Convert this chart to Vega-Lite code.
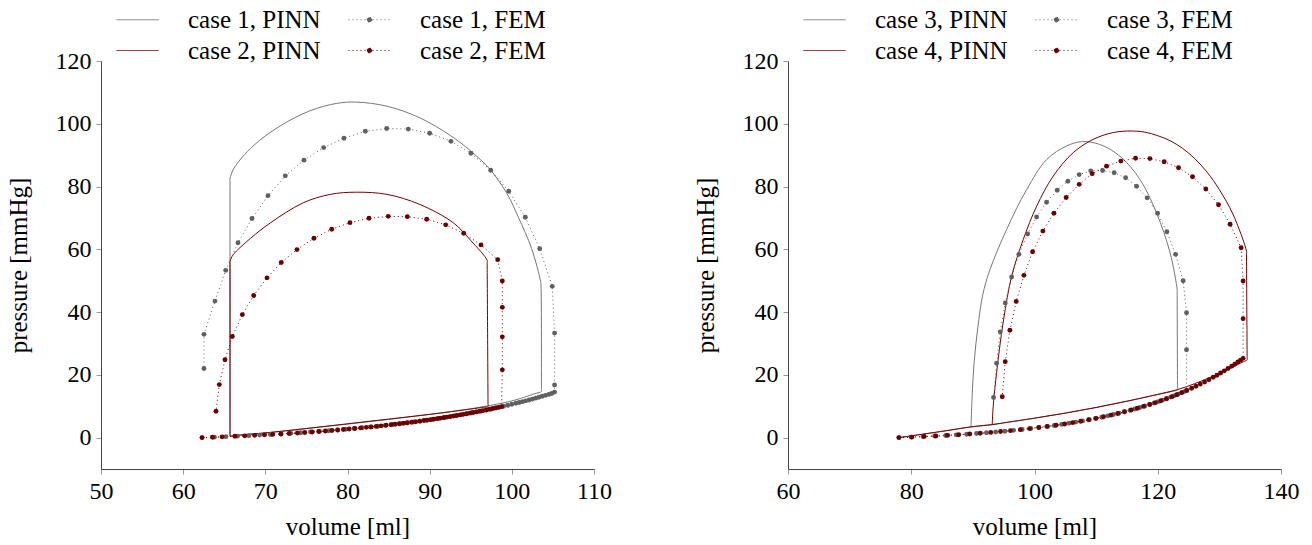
{
"$schema": "https://vega.github.io/schema/vega-lite/v6.json",
"background": "white",
"padding": {"left": 6, "top": 7, "right": 5, "bottom": 5},
"config": {
 "view": {"stroke": null},
 "axis": {"labelFont": "Liberation Serif", "labelFontSize": 24, "titleFont": "Liberation Serif", "titleFontSize": 25, "titleFontWeight": "normal", "labelColor": "black", "titleColor": "black", "domainColor": "#444444", "domainWidth": 1, "tickColor": "#999999", "tickSize": 5, "grid": false, "labelPadding": 5, "labelFlush": false, "labelOverlap": false},
 "legend": {"orient": "none", "legendX": 4, "legendY": -54, "columns": 2, "columnPadding": 16, "rowPadding": 5, "symbolSize": 441, "symbolStrokeWidth": 1, "symbolOffset": 20, "labelOffset": 38, "labelFont": "Liberation Serif", "labelFontSize": 25, "labelColor": "black", "padding": 0, "labelLimit": 300}
},
"spacing": 194,
"bounds": "flush",
"resolve": {"scale": {"color": "independent"}, "legend": {"color": "independent"}},
"hconcat": [
 {
  "width": 493, "height": 408,
  "data": {"values": [
{"s":"case 1, PINN","v":65.7,"p":0.5},{"s":"case 1, PINN","v":67,"p":0.9},{"s":"case 1, PINN","v":70,"p":1.5},{"s":"case 1, PINN","v":75,"p":2.9},{"s":"case 1, PINN","v":80,"p":4.3},{"s":"case 1, PINN","v":85,"p":5.8},{"s":"case 1, PINN","v":90,"p":7.4},{"s":"case 1, PINN","v":95,"p":9.2},{"s":"case 1, PINN","v":100,"p":11.7},{"s":"case 1, PINN","v":102.8,"p":14.0},{"s":"case 1, PINN","v":103.6,"p":14.7},{"s":"case 1, PINN","v":103.6,"p":15.7},{"s":"case 1, PINN","v":103.55,"p":48.5},{"s":"case 1, PINN","v":103.5,"p":49.8},{"s":"case 1, PINN","v":102.4,"p":60.3},{"s":"case 1, PINN","v":100.8,"p":70.2},{"s":"case 1, PINN","v":99.4,"p":77.8},{"s":"case 1, PINN","v":97.3,"p":85.6},{"s":"case 1, PINN","v":95.0,"p":91.3},{"s":"case 1, PINN","v":92.5,"p":96.3},{"s":"case 1, PINN","v":88.8,"p":101.9},{"s":"case 1, PINN","v":84.8,"p":105.6},{"s":"case 1, PINN","v":81.1,"p":106.9},{"s":"case 1, PINN","v":78.7,"p":106.5},{"s":"case 1, PINN","v":75.4,"p":104.1},{"s":"case 1, PINN","v":71.8,"p":99.3},{"s":"case 1, PINN","v":68.5,"p":92.9},{"s":"case 1, PINN","v":66.2,"p":85.9},{"s":"case 1, PINN","v":65.7,"p":82.5},{"s":"case 1, PINN","v":65.7,"p":81.5},{"s":"case 1, PINN","v":65.7,"p":1.5},{"s":"case 1, PINN","v":65.7,"p":0.5},
{"s":"case 1, FEM","v":62.3,"p":0},{"s":"case 1, FEM","v":63.8,"p":0.15},{"s":"case 1, FEM","v":65.2,"p":0.3},{"s":"case 1, FEM","v":66.6,"p":0.46},{"s":"case 1, FEM","v":68.0,"p":0.63},{"s":"case 1, FEM","v":69.3,"p":0.8},{"s":"case 1, FEM","v":70.6,"p":0.98},{"s":"case 1, FEM","v":71.9,"p":1.17},{"s":"case 1, FEM","v":73.1,"p":1.36},{"s":"case 1, FEM","v":74.3,"p":1.56},{"s":"case 1, FEM","v":75.5,"p":1.78},{"s":"case 1, FEM","v":76.6,"p":1.98},{"s":"case 1, FEM","v":77.7,"p":2.2},{"s":"case 1, FEM","v":78.8,"p":2.44},{"s":"case 1, FEM","v":79.8,"p":2.66},{"s":"case 1, FEM","v":80.8,"p":2.89},{"s":"case 1, FEM","v":81.8,"p":3.14},{"s":"case 1, FEM","v":82.8,"p":3.4},{"s":"case 1, FEM","v":83.7,"p":3.64},{"s":"case 1, FEM","v":84.6,"p":3.89},{"s":"case 1, FEM","v":85.5,"p":4.16},{"s":"case 1, FEM","v":86.4,"p":4.44},{"s":"case 1, FEM","v":87.2,"p":4.7},{"s":"case 1, FEM","v":88.0,"p":4.97},{"s":"case 1, FEM","v":88.8,"p":5.25},{"s":"case 1, FEM","v":89.6,"p":5.54},{"s":"case 1, FEM","v":90.4,"p":5.84},{"s":"case 1, FEM","v":91.1,"p":6.12},{"s":"case 1, FEM","v":91.8,"p":6.41},{"s":"case 1, FEM","v":92.5,"p":6.7},{"s":"case 1, FEM","v":93.2,"p":7.01},{"s":"case 1, FEM","v":93.9,"p":7.33},{"s":"case 1, FEM","v":94.5,"p":7.61},{"s":"case 1, FEM","v":95.1,"p":7.9},{"s":"case 1, FEM","v":95.7,"p":8.19},{"s":"case 1, FEM","v":96.3,"p":8.5},{"s":"case 1, FEM","v":96.9,"p":8.82},{"s":"case 1, FEM","v":97.5,"p":9.14},{"s":"case 1, FEM","v":98.0,"p":9.42},{"s":"case 1, FEM","v":98.5,"p":9.71},{"s":"case 1, FEM","v":99.0,"p":10.0},{"s":"case 1, FEM","v":99.5,"p":10.31},{"s":"case 1, FEM","v":100.0,"p":10.61},{"s":"case 1, FEM","v":100.5,"p":10.93},{"s":"case 1, FEM","v":100.9,"p":11.19},{"s":"case 1, FEM","v":101.3,"p":11.46},{"s":"case 1, FEM","v":101.7,"p":11.72},{"s":"case 1, FEM","v":102.1,"p":12.0},{"s":"case 1, FEM","v":102.5,"p":12.28},{"s":"case 1, FEM","v":102.9,"p":12.57},{"s":"case 1, FEM","v":103.3,"p":12.86},{"s":"case 1, FEM","v":103.7,"p":13.16},{"s":"case 1, FEM","v":104.1,"p":13.46},{"s":"case 1, FEM","v":104.5,"p":13.77},{"s":"case 1, FEM","v":104.85,"p":14.05},{"s":"case 1, FEM","v":105.2,"p":14.5},{"s":"case 1, FEM","v":105.2,"p":16.8},{"s":"case 1, FEM","v":105.2,"p":33.3},{"s":"case 1, FEM","v":104.92,"p":48.2},{"s":"case 1, FEM","v":103.39,"p":60.2},{"s":"case 1, FEM","v":101.64,"p":70.2},{"s":"case 1, FEM","v":99.62,"p":78.5},{"s":"case 1, FEM","v":97.43,"p":85.2},{"s":"case 1, FEM","v":95.03,"p":90.6},{"s":"case 1, FEM","v":92.59,"p":94.4},{"s":"case 1, FEM","v":90.0,"p":97.0},{"s":"case 1, FEM","v":87.4,"p":98.3},{"s":"case 1, FEM","v":84.77,"p":98.5},{"s":"case 1, FEM","v":82.17,"p":97.6},{"s":"case 1, FEM","v":79.57,"p":95.4},{"s":"case 1, FEM","v":77.1,"p":92.4},{"s":"case 1, FEM","v":74.7,"p":88.4},{"s":"case 1, FEM","v":72.43,"p":83.4},{"s":"case 1, FEM","v":70.32,"p":77.1},{"s":"case 1, FEM","v":68.38,"p":69.8},{"s":"case 1, FEM","v":66.67,"p":62.1},{"s":"case 1, FEM","v":65.18,"p":53.3},{"s":"case 1, FEM","v":63.87,"p":43.5},{"s":"case 1, FEM","v":62.53,"p":32.9},{"s":"case 1, FEM","v":62.53,"p":22.0},
{"s":"case 2, PINN","v":65.7,"p":0.4},{"s":"case 2, PINN","v":67,"p":0.8},{"s":"case 2, PINN","v":70,"p":1.5},{"s":"case 2, PINN","v":75,"p":2.9},{"s":"case 2, PINN","v":80,"p":4.4},{"s":"case 2, PINN","v":85,"p":5.9},{"s":"case 2, PINN","v":90,"p":7.4},{"s":"case 2, PINN","v":95,"p":9.1},{"s":"case 2, PINN","v":96.6,"p":9.7},{"s":"case 2, PINN","v":97.1,"p":9.9},{"s":"case 2, PINN","v":97.1,"p":10.9},{"s":"case 2, PINN","v":97.0,"p":55.5},{"s":"case 2, PINN","v":97.0,"p":56.5},{"s":"case 2, PINN","v":95.0,"p":62.8},{"s":"case 2, PINN","v":92.9,"p":68.4},{"s":"case 2, PINN","v":88.8,"p":74.3},{"s":"case 2, PINN","v":84.8,"p":77.5},{"s":"case 2, PINN","v":81.1,"p":78.2},{"s":"case 2, PINN","v":77.9,"p":77.5},{"s":"case 2, PINN","v":74.6,"p":74.8},{"s":"case 2, PINN","v":70.6,"p":68.4},{"s":"case 2, PINN","v":68.2,"p":63.5},{"s":"case 2, PINN","v":66.1,"p":58.3},{"s":"case 2, PINN","v":65.7,"p":56.2},{"s":"case 2, PINN","v":65.7,"p":55.2},{"s":"case 2, PINN","v":65.7,"p":1.4},{"s":"case 2, PINN","v":65.7,"p":0.4},
{"s":"case 2, FEM","v":62.3,"p":0},{"s":"case 2, FEM","v":63.56,"p":0.12},{"s":"case 2, FEM","v":64.74,"p":0.25},{"s":"case 2, FEM","v":66.3,"p":0.42},{"s":"case 2, FEM","v":67.5,"p":0.56},{"s":"case 2, FEM","v":68.7,"p":0.72},{"s":"case 2, FEM","v":69.9,"p":0.88},{"s":"case 2, FEM","v":70.9,"p":1.02},{"s":"case 2, FEM","v":71.9,"p":1.17},{"s":"case 2, FEM","v":72.9,"p":1.33},{"s":"case 2, FEM","v":73.9,"p":1.49},{"s":"case 2, FEM","v":74.8,"p":1.65},{"s":"case 2, FEM","v":75.7,"p":1.81},{"s":"case 2, FEM","v":76.5,"p":1.97},{"s":"case 2, FEM","v":77.3,"p":2.12},{"s":"case 2, FEM","v":78.1,"p":2.29},{"s":"case 2, FEM","v":78.8,"p":2.44},{"s":"case 2, FEM","v":79.5,"p":2.59},{"s":"case 2, FEM","v":80.2,"p":2.75},{"s":"case 2, FEM","v":80.9,"p":2.92},{"s":"case 2, FEM","v":81.6,"p":3.09},{"s":"case 2, FEM","v":82.3,"p":3.27},{"s":"case 2, FEM","v":82.9,"p":3.42},{"s":"case 2, FEM","v":83.5,"p":3.58},{"s":"case 2, FEM","v":84.1,"p":3.75},{"s":"case 2, FEM","v":84.7,"p":3.92},{"s":"case 2, FEM","v":85.3,"p":4.1},{"s":"case 2, FEM","v":85.8,"p":4.25},{"s":"case 2, FEM","v":86.3,"p":4.41},{"s":"case 2, FEM","v":86.8,"p":4.57},{"s":"case 2, FEM","v":87.3,"p":4.73},{"s":"case 2, FEM","v":87.8,"p":4.9},{"s":"case 2, FEM","v":88.3,"p":5.07},{"s":"case 2, FEM","v":88.8,"p":5.25},{"s":"case 2, FEM","v":89.3,"p":5.43},{"s":"case 2, FEM","v":89.7,"p":5.58},{"s":"case 2, FEM","v":90.1,"p":5.73},{"s":"case 2, FEM","v":90.5,"p":5.88},{"s":"case 2, FEM","v":90.9,"p":6.04},{"s":"case 2, FEM","v":91.3,"p":6.2},{"s":"case 2, FEM","v":91.7,"p":6.36},{"s":"case 2, FEM","v":92.1,"p":6.53},{"s":"case 2, FEM","v":92.5,"p":6.7},{"s":"case 2, FEM","v":92.9,"p":6.88},{"s":"case 2, FEM","v":93.3,"p":7.05},{"s":"case 2, FEM","v":93.7,"p":7.23},{"s":"case 2, FEM","v":94.1,"p":7.42},{"s":"case 2, FEM","v":94.5,"p":7.61},{"s":"case 2, FEM","v":94.9,"p":7.8},{"s":"case 2, FEM","v":95.3,"p":7.99},{"s":"case 2, FEM","v":95.7,"p":8.19},{"s":"case 2, FEM","v":96.1,"p":8.4},{"s":"case 2, FEM","v":96.5,"p":8.61},{"s":"case 2, FEM","v":96.9,"p":8.82},{"s":"case 2, FEM","v":97.3,"p":9.03},{"s":"case 2, FEM","v":97.7,"p":9.26},{"s":"case 2, FEM","v":98.1,"p":9.48},{"s":"case 2, FEM","v":98.4,"p":9.65},{"s":"case 2, FEM","v":98.76,"p":9.86},{"s":"case 2, FEM","v":98.84,"p":21.6},{"s":"case 2, FEM","v":98.84,"p":32.1},{"s":"case 2, FEM","v":98.84,"p":41.5},{"s":"case 2, FEM","v":98.84,"p":49.9},{"s":"case 2, FEM","v":98.28,"p":56.7},{"s":"case 2, FEM","v":96.25,"p":61.4},{"s":"case 2, FEM","v":94.14,"p":65.1},{"s":"case 2, FEM","v":91.95,"p":67.8},{"s":"case 2, FEM","v":89.64,"p":69.6},{"s":"case 2, FEM","v":87.28,"p":70.4},{"s":"case 2, FEM","v":84.96,"p":70.5},{"s":"case 2, FEM","v":82.62,"p":69.9},{"s":"case 2, FEM","v":80.3,"p":68.5},{"s":"case 2, FEM","v":78.08,"p":66.4},{"s":"case 2, FEM","v":75.92,"p":63.5},{"s":"case 2, FEM","v":73.85,"p":59.9},{"s":"case 2, FEM","v":71.94,"p":55.8},{"s":"case 2, FEM","v":70.2,"p":50.9},{"s":"case 2, FEM","v":68.58,"p":45.3},{"s":"case 2, FEM","v":67.2,"p":39.2},{"s":"case 2, FEM","v":65.98,"p":32.2},{"s":"case 2, FEM","v":65.09,"p":24.8},{"s":"case 2, FEM","v":64.4,"p":16.9},{"s":"case 2, FEM","v":64.0,"p":8.4}
  ]},
  "encoding": {
   "x": {"field": "v", "type": "quantitative", "scale": {"domain": [50, 110], "nice": false, "zero": false}, "axis": {"values": [50,60,70,80,90,100,110], "title": "volume [ml]", "titlePadding": 11}},
   "y": {"field": "p", "type": "quantitative", "scale": {"domain": [-10, 120], "nice": false, "zero": false}, "axis": {"values": [0,20,40,60,80,100,120], "title": "pressure [mmHg]", "titlePadding": 24}}
  },
  "layer": [
   {"transform": [{"filter": "indexof(datum.s,'PINN')>=0"}], "mark": {"type": "line", "strokeWidth": 1, "interpolate": "catmull-rom"}, "encoding": {"color": {"field": "s", "type": "nominal", "scale": {"domain": ["case 1, PINN","case 2, PINN","case 1, FEM","case 2, FEM"], "range": ["#777777","#7a0000","#606060","#6b0000"]},
     "legend": {"title": null, "encoding": {"symbols": {
      "shape": {"value": {"expr": "indexof(datum.value,'FEM')>=0 ? 'M-2,0H2M0.24,0A0.24,0.24,0,1,1,-0.24,0A0.24,0.24,0,1,1,0.24,0Z' : 'M-2,0H2'"}},
      "strokeDash": {"value": {"expr": "indexof(datum.value,'FEM')>=0 ? [1,3] : [1,0]"}},
      "fill": {"value": {"expr": "indexof(datum.value,'case 1')>=0 ? '#606060' : '#6b0000'"}},
      "fillOpacity": {"value": 1},
      "stroke": {"value": {"expr": "indexof(datum.value,'case 1')>=0 ? '#8a8a8a' : '#7a0000'"}},
      "strokeWidth": {"value": 1},
      "opacity": {"value": 1}}}}}, "order": {"value": null}}},
   {"transform": [{"filter": "indexof(datum.s,'FEM')>=0"}], "mark": {"type": "line", "strokeWidth": 1, "strokeDash": [1,3]}, "encoding": {"color": {"field": "s", "type": "nominal"}, "order": {"value": null}}},
   {"transform": [{"filter": "indexof(datum.s,'FEM')>=0"}], "mark": {"type": "point", "filled": true, "size": 24, "opacity": 1}, "encoding": {"color": {"field": "s", "type": "nominal"}}},
   {"data": {"values": [{}]}, "mark": {"type": "point", "shape": "M0,0L-2,-0.8L-1.4,0L-2,0.8Z", "filled": true, "color": "#111111", "opacity": 1, "size": 36}, "encoding": {"x": {"datum": 110, "type": "quantitative"}, "y": {"datum": -10, "type": "quantitative"}}},
   {"data": {"values": [{}]}, "mark": {"type": "point", "shape": "M0,0L-2,-0.8L-1.4,0L-2,0.8Z", "filled": true, "color": "#111111", "opacity": 1, "size": 36, "angle": 270}, "encoding": {"x": {"datum": 50, "type": "quantitative"}, "y": {"datum": 120, "type": "quantitative"}}}
  ]
 },
 {
  "width": 493, "height": 408,
  "data": {"values": [
{"s":"case 3, PINN","v":78,"p":0},{"s":"case 3, PINN","v":85,"p":2.0},{"s":"case 3, PINN","v":89.7,"p":3.4},{"s":"case 3, PINN","v":95,"p":4.7},{"s":"case 3, PINN","v":100,"p":6.2},{"s":"case 3, PINN","v":105,"p":7.8},{"s":"case 3, PINN","v":110,"p":9.6},{"s":"case 3, PINN","v":115,"p":11.6},{"s":"case 3, PINN","v":120,"p":13.7},{"s":"case 3, PINN","v":122.5,"p":14.8},{"s":"case 3, PINN","v":123.2,"p":15.2},{"s":"case 3, PINN","v":123.2,"p":16.2},{"s":"case 3, PINN","v":123.15,"p":46.1},{"s":"case 3, PINN","v":123.15,"p":47.1},{"s":"case 3, PINN","v":122.0,"p":58.9},{"s":"case 3, PINN","v":119.8,"p":71.6},{"s":"case 3, PINN","v":117.1,"p":82.3},{"s":"case 3, PINN","v":113.85,"p":89.7},{"s":"case 3, PINN","v":110.6,"p":93.4},{"s":"case 3, PINN","v":107.64,"p":94.3},{"s":"case 3, PINN","v":105.2,"p":92.9},{"s":"case 3, PINN","v":101.96,"p":88.6},{"s":"case 3, PINN","v":98.72,"p":79.0},{"s":"case 3, PINN","v":95.47,"p":66.3},{"s":"case 3, PINN","v":92.77,"p":53.5},{"s":"case 3, PINN","v":91.6,"p":45.5},{"s":"case 3, PINN","v":90.8,"p":35},{"s":"case 3, PINN","v":90.2,"p":24},{"s":"case 3, PINN","v":89.9,"p":14},{"s":"case 3, PINN","v":89.7,"p":3.4},
{"s":"case 3, FEM","v":78,"p":0},{"s":"case 3, FEM","v":80,"p":0.15},{"s":"case 3, FEM","v":81.9,"p":0.32},{"s":"case 3, FEM","v":83.8,"p":0.5},{"s":"case 3, FEM","v":85.6,"p":0.68},{"s":"case 3, FEM","v":87.3,"p":0.88},{"s":"case 3, FEM","v":89,"p":1.09},{"s":"case 3, FEM","v":90.6,"p":1.31},{"s":"case 3, FEM","v":92.2,"p":1.55},{"s":"case 3, FEM","v":93.7,"p":1.79},{"s":"case 3, FEM","v":95.2,"p":2.05},{"s":"case 3, FEM","v":96.6,"p":2.32},{"s":"case 3, FEM","v":98,"p":2.6},{"s":"case 3, FEM","v":99.4,"p":2.91},{"s":"case 3, FEM","v":100.7,"p":3.22},{"s":"case 3, FEM","v":102,"p":3.54},{"s":"case 3, FEM","v":103.2,"p":3.87},{"s":"case 3, FEM","v":104.4,"p":4.21},{"s":"case 3, FEM","v":105.6,"p":4.58},{"s":"case 3, FEM","v":106.7,"p":4.94},{"s":"case 3, FEM","v":107.8,"p":5.32},{"s":"case 3, FEM","v":108.9,"p":5.72},{"s":"case 3, FEM","v":109.9,"p":6.1},{"s":"case 3, FEM","v":110.9,"p":6.51},{"s":"case 3, FEM","v":111.9,"p":6.94},{"s":"case 3, FEM","v":112.8,"p":7.35},{"s":"case 3, FEM","v":113.7,"p":7.77},{"s":"case 3, FEM","v":114.6,"p":8.22},{"s":"case 3, FEM","v":115.5,"p":8.69},{"s":"case 3, FEM","v":116.3,"p":9.13},{"s":"case 3, FEM","v":117.1,"p":9.58},{"s":"case 3, FEM","v":117.9,"p":10.06},{"s":"case 3, FEM","v":118.7,"p":10.55},{"s":"case 3, FEM","v":119.4,"p":11.0},{"s":"case 3, FEM","v":120.1,"p":11.47},{"s":"case 3, FEM","v":120.8,"p":11.96},{"s":"case 3, FEM","v":121.5,"p":12.46},{"s":"case 3, FEM","v":122.1,"p":12.91},{"s":"case 3, FEM","v":122.7,"p":13.37},{"s":"case 3, FEM","v":123.3,"p":13.85},{"s":"case 3, FEM","v":123.9,"p":14.34},{"s":"case 3, FEM","v":124.3,"p":14.67},{"s":"case 3, FEM","v":124.67,"p":15.0},{"s":"case 3, FEM","v":124.67,"p":28.0},{"s":"case 3, FEM","v":124.67,"p":39.8},{"s":"case 3, FEM","v":124.12,"p":50.0},{"s":"case 3, FEM","v":122.89,"p":58.4},{"s":"case 3, FEM","v":121.48,"p":65.6},{"s":"case 3, FEM","v":119.97,"p":71.5},{"s":"case 3, FEM","v":118.28,"p":76.4},{"s":"case 3, FEM","v":116.56,"p":80.1},{"s":"case 3, FEM","v":114.78,"p":82.8},{"s":"case 3, FEM","v":112.93,"p":84.4},{"s":"case 3, FEM","v":111.05,"p":85.1},{"s":"case 3, FEM","v":109.13,"p":85.0},{"s":"case 3, FEM","v":107.25,"p":83.8},{"s":"case 3, FEM","v":105.42,"p":81.7},{"s":"case 3, FEM","v":103.68,"p":78.8},{"s":"case 3, FEM","v":101.96,"p":75.0},{"s":"case 3, FEM","v":100.34,"p":70.3},{"s":"case 3, FEM","v":98.88,"p":64.9},{"s":"case 3, FEM","v":97.47,"p":58.4},{"s":"case 3, FEM","v":96.29,"p":51.2},{"s":"case 3, FEM","v":95.25,"p":42.9},{"s":"case 3, FEM","v":94.44,"p":33.7},{"s":"case 3, FEM","v":93.85,"p":23.7},{"s":"case 3, FEM","v":93.36,"p":12.8},
{"s":"case 4, PINN","v":78,"p":0},{"s":"case 4, PINN","v":85,"p":2.0},{"s":"case 4, PINN","v":90,"p":3.5},{"s":"case 4, PINN","v":93.14,"p":4.1},{"s":"case 4, PINN","v":95,"p":4.7},{"s":"case 4, PINN","v":100,"p":6.2},{"s":"case 4, PINN","v":105,"p":7.8},{"s":"case 4, PINN","v":110,"p":9.6},{"s":"case 4, PINN","v":115,"p":11.6},{"s":"case 4, PINN","v":120,"p":13.8},{"s":"case 4, PINN","v":123.2,"p":15.3},{"s":"case 4, PINN","v":126,"p":17.2},{"s":"case 4, PINN","v":129,"p":19.6},{"s":"case 4, PINN","v":132,"p":22.3},{"s":"case 4, PINN","v":133.9,"p":24.2},{"s":"case 4, PINN","v":134.5,"p":24.8},{"s":"case 4, PINN","v":134.5,"p":25.8},{"s":"case 4, PINN","v":134.4,"p":58.4},{"s":"case 4, PINN","v":134.4,"p":59.4},{"s":"case 4, PINN","v":132.2,"p":71.2},{"s":"case 4, PINN","v":130.0,"p":79.0},{"s":"case 4, PINN","v":128.0,"p":84.6},{"s":"case 4, PINN","v":126.0,"p":88.9},{"s":"case 4, PINN","v":124.0,"p":92.2},{"s":"case 4, PINN","v":122.0,"p":94.6},{"s":"case 4, PINN","v":120.0,"p":96.2},{"s":"case 4, PINN","v":118.0,"p":97.3},{"s":"case 4, PINN","v":115.85,"p":97.7},{"s":"case 4, PINN","v":112.77,"p":97.2},{"s":"case 4, PINN","v":109.5,"p":95.0},{"s":"case 4, PINN","v":106.28,"p":90.8},{"s":"case 4, PINN","v":103.03,"p":83.3},{"s":"case 4, PINN","v":100.34,"p":73.7},{"s":"case 4, PINN","v":98.17,"p":63.1},{"s":"case 4, PINN","v":96.29,"p":51.4},{"s":"case 4, PINN","v":95.0,"p":37.8},{"s":"case 4, PINN","v":94.3,"p":28},{"s":"case 4, PINN","v":93.7,"p":18},{"s":"case 4, PINN","v":93.3,"p":10},{"s":"case 4, PINN","v":93.14,"p":4.1},
{"s":"case 4, FEM","v":78,"p":0},{"s":"case 4, FEM","v":80.1,"p":0.16},{"s":"case 4, FEM","v":82.1,"p":0.34},{"s":"case 4, FEM","v":84,"p":0.52},{"s":"case 4, FEM","v":85.9,"p":0.72},{"s":"case 4, FEM","v":87.7,"p":0.93},{"s":"case 4, FEM","v":89.5,"p":1.16},{"s":"case 4, FEM","v":91.2,"p":1.4},{"s":"case 4, FEM","v":92.9,"p":1.66},{"s":"case 4, FEM","v":94.5,"p":1.93},{"s":"case 4, FEM","v":96.1,"p":2.22},{"s":"case 4, FEM","v":97.7,"p":2.54},{"s":"case 4, FEM","v":99.2,"p":2.87},{"s":"case 4, FEM","v":100.7,"p":3.22},{"s":"case 4, FEM","v":102.1,"p":3.57},{"s":"case 4, FEM","v":103.5,"p":3.95},{"s":"case 4, FEM","v":104.9,"p":4.36},{"s":"case 4, FEM","v":106.2,"p":4.77},{"s":"case 4, FEM","v":107.5,"p":5.21},{"s":"case 4, FEM","v":108.8,"p":5.68},{"s":"case 4, FEM","v":110,"p":6.14},{"s":"case 4, FEM","v":111.2,"p":6.64},{"s":"case 4, FEM","v":112.4,"p":7.17},{"s":"case 4, FEM","v":113.5,"p":7.68},{"s":"case 4, FEM","v":114.6,"p":8.22},{"s":"case 4, FEM","v":115.7,"p":8.8},{"s":"case 4, FEM","v":116.7,"p":9.35},{"s":"case 4, FEM","v":117.7,"p":9.94},{"s":"case 4, FEM","v":118.7,"p":10.55},{"s":"case 4, FEM","v":119.6,"p":11.14},{"s":"case 4, FEM","v":120.5,"p":11.75},{"s":"case 4, FEM","v":121.4,"p":12.39},{"s":"case 4, FEM","v":122.3,"p":13.06},{"s":"case 4, FEM","v":123.1,"p":13.69},{"s":"case 4, FEM","v":123.9,"p":14.34},{"s":"case 4, FEM","v":124.7,"p":15.02},{"s":"case 4, FEM","v":125.5,"p":15.73},{"s":"case 4, FEM","v":126.2,"p":16.38},{"s":"case 4, FEM","v":126.9,"p":17.05},{"s":"case 4, FEM","v":127.6,"p":17.74},{"s":"case 4, FEM","v":128.3,"p":18.47},{"s":"case 4, FEM","v":129,"p":19.22},{"s":"case 4, FEM","v":129.6,"p":19.88},{"s":"case 4, FEM","v":130.2,"p":20.57},{"s":"case 4, FEM","v":130.8,"p":21.28},{"s":"case 4, FEM","v":131.4,"p":22.01},{"s":"case 4, FEM","v":132,"p":22.77},{"s":"case 4, FEM","v":132.5,"p":23.42},{"s":"case 4, FEM","v":133,"p":24.08},{"s":"case 4, FEM","v":133.45,"p":24.7},{"s":"case 4, FEM","v":133.85,"p":25.25},{"s":"case 4, FEM","v":133.85,"p":37.9},{"s":"case 4, FEM","v":133.85,"p":49.9},{"s":"case 4, FEM","v":133.53,"p":60.5},{"s":"case 4, FEM","v":131.74,"p":68.0},{"s":"case 4, FEM","v":129.86,"p":74.2},{"s":"case 4, FEM","v":127.8,"p":79.2},{"s":"case 4, FEM","v":125.64,"p":83.1},{"s":"case 4, FEM","v":123.37,"p":86.0},{"s":"case 4, FEM","v":121.04,"p":87.9},{"s":"case 4, FEM","v":118.72,"p":88.9},{"s":"case 4, FEM","v":116.4,"p":89.0},{"s":"case 4, FEM","v":114.01,"p":88.1},{"s":"case 4, FEM","v":111.69,"p":86.5},{"s":"case 4, FEM","v":109.36,"p":84.1},{"s":"case 4, FEM","v":107.25,"p":80.7},{"s":"case 4, FEM","v":105.14,"p":76.5},{"s":"case 4, FEM","v":103.15,"p":71.5},{"s":"case 4, FEM","v":101.36,"p":65.8},{"s":"case 4, FEM","v":99.69,"p":59.2},{"s":"case 4, FEM","v":98.28,"p":51.7},{"s":"case 4, FEM","v":97.03,"p":43.4},{"s":"case 4, FEM","v":96.01,"p":34.2},{"s":"case 4, FEM","v":95.25,"p":24.2},{"s":"case 4, FEM","v":94.76,"p":13.0}
  ]},
  "encoding": {
   "x": {"field": "v", "type": "quantitative", "scale": {"domain": [60, 140], "nice": false, "zero": false}, "axis": {"values": [60,80,100,120,140], "title": "volume [ml]", "titlePadding": 11}},
   "y": {"field": "p", "type": "quantitative", "scale": {"domain": [-10, 120], "nice": false, "zero": false}, "axis": {"values": [0,20,40,60,80,100,120], "title": "pressure [mmHg]", "titlePadding": 24}}
  },
  "layer": [
   {"transform": [{"filter": "indexof(datum.s,'PINN')>=0"}], "mark": {"type": "line", "strokeWidth": 1, "interpolate": "catmull-rom"}, "encoding": {"color": {"field": "s", "type": "nominal", "scale": {"domain": ["case 3, PINN","case 4, PINN","case 3, FEM","case 4, FEM"], "range": ["#777777","#7a0000","#606060","#6b0000"]},
     "legend": {"title": null, "encoding": {"symbols": {
      "shape": {"value": {"expr": "indexof(datum.value,'FEM')>=0 ? 'M-2,0H2M0.24,0A0.24,0.24,0,1,1,-0.24,0A0.24,0.24,0,1,1,0.24,0Z' : 'M-2,0H2'"}},
      "strokeDash": {"value": {"expr": "indexof(datum.value,'FEM')>=0 ? [1,3] : [1,0]"}},
      "fill": {"value": {"expr": "indexof(datum.value,'case 3')>=0 ? '#606060' : '#6b0000'"}},
      "fillOpacity": {"value": 1},
      "stroke": {"value": {"expr": "indexof(datum.value,'case 3')>=0 ? '#8a8a8a' : '#7a0000'"}},
      "strokeWidth": {"value": 1},
      "opacity": {"value": 1}}}}}, "order": {"value": null}}},
   {"transform": [{"filter": "indexof(datum.s,'FEM')>=0"}], "mark": {"type": "line", "strokeWidth": 1, "strokeDash": [1,3]}, "encoding": {"color": {"field": "s", "type": "nominal"}, "order": {"value": null}}},
   {"transform": [{"filter": "indexof(datum.s,'FEM')>=0"}], "mark": {"type": "point", "filled": true, "size": 24, "opacity": 1}, "encoding": {"color": {"field": "s", "type": "nominal"}}},
   {"data": {"values": [{}]}, "mark": {"type": "point", "shape": "M0,0L-2,-0.8L-1.4,0L-2,0.8Z", "filled": true, "color": "#111111", "opacity": 1, "size": 36}, "encoding": {"x": {"datum": 140, "type": "quantitative"}, "y": {"datum": -10, "type": "quantitative"}}},
   {"data": {"values": [{}]}, "mark": {"type": "point", "shape": "M0,0L-2,-0.8L-1.4,0L-2,0.8Z", "filled": true, "color": "#111111", "opacity": 1, "size": 36, "angle": 270}, "encoding": {"x": {"datum": 60, "type": "quantitative"}, "y": {"datum": 120, "type": "quantitative"}}}
  ]
 }
]
}
